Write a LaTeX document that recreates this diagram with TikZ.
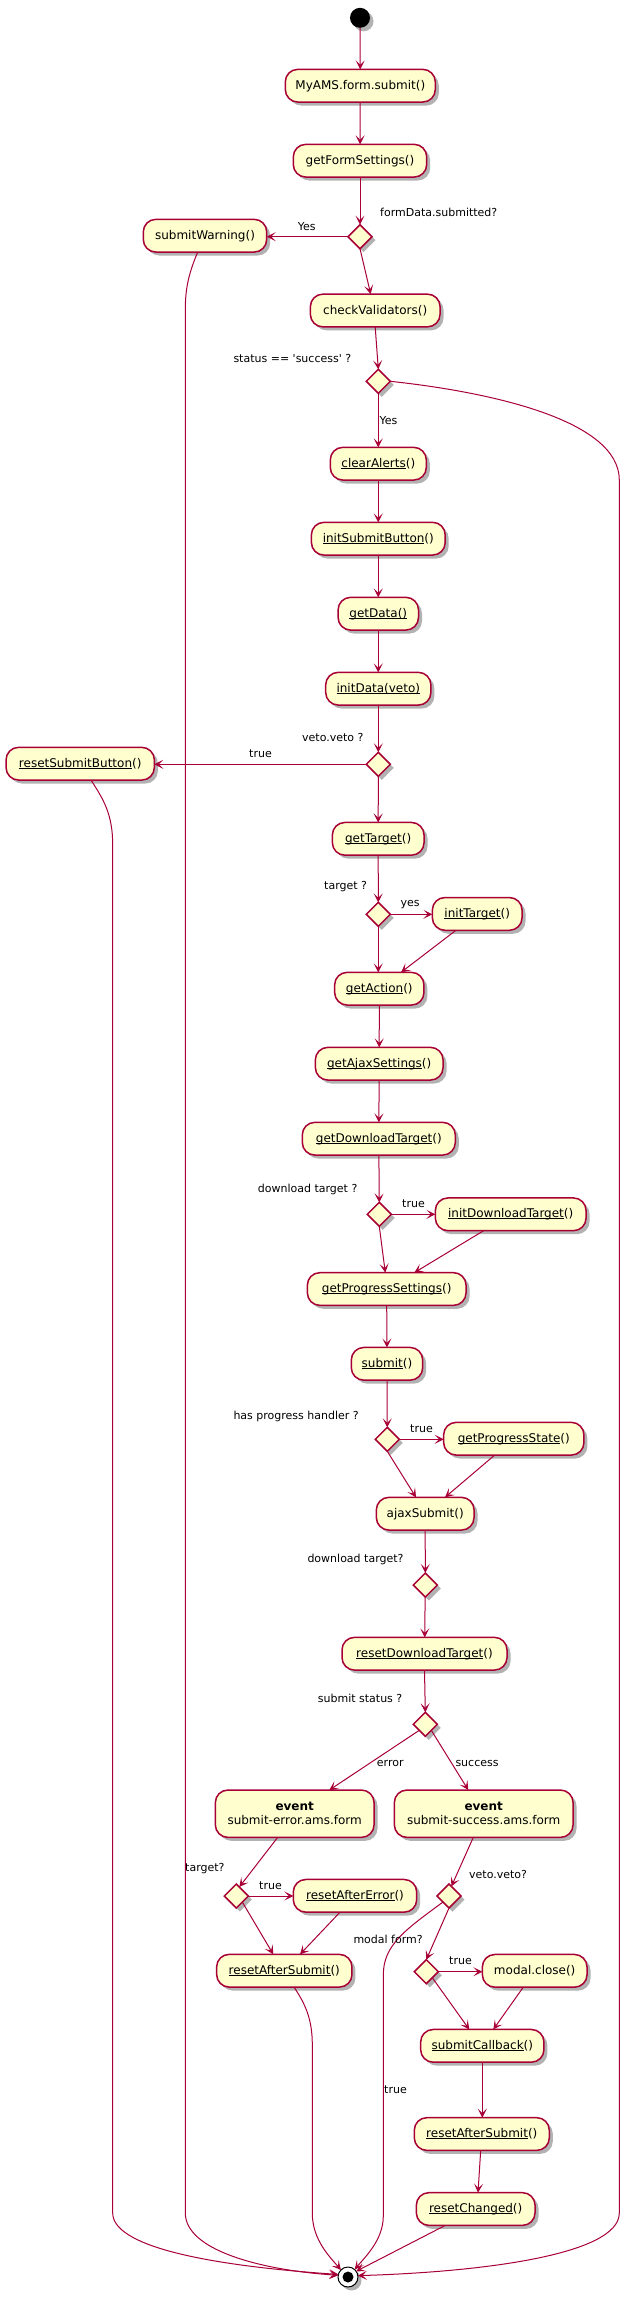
\documentclass[tikz,border=0pt]{standalone}
\usepackage{fontspec}
\setmainfont{DejaVu Sans}
\usetikzlibrary{shapes.geometric,arrows.meta,shadows,calc}
\definecolor{pbord}{HTML}{A80036}
\definecolor{pfill}{HTML}{FEFECE}
\newsavebox\ulbox
\newcommand\myul[1]{\sbox\ulbox{#1}\rlap{\rule[-1.4pt]{\wd\ulbox}{0.7pt}}\usebox\ulbox}
\begin{document}
\begin{tikzpicture}[x=1pt,y=-1pt,
  shd/.style={drop shadow={shadow xshift=3.5pt,shadow yshift=-3.5pt,opacity=0.3,fill=black}},
  act/.style={draw=pbord,fill=pfill,line width=1.5pt,rounded corners=12.5pt,minimum height=32.7pt,inner sep=0pt,outer sep=0pt,font=\fontsize{12}{14}\selectfont,shd},
  dec/.style={diamond,draw=pbord,fill=pfill,line width=1.5pt,minimum width=24pt,minimum height=24pt,inner sep=0pt,outer sep=0pt,shd},
  lbl/.style={anchor=west,inner sep=0pt,font=\fontsize{11}{13}\selectfont},
  arr/.style={draw=pbord,line width=1pt,-{Stealth[length=9pt,width=9pt,inset=4.5pt]}},
]
\fill[white] (0,0) rectangle (630,2297);
\useasboundingbox (0,0) rectangle (630,2297);

% start / end
\node[circle,fill=black,minimum size=20pt,inner sep=0pt,outer sep=0pt,shd] (start) at (360,17.8) {};
\node[circle,draw=black,fill=white,line width=1pt,minimum size=20pt,inner sep=0pt,outer sep=0pt,shd] (end) at (348,2277) {};
\node[circle,fill=black,minimum size=11pt,inner sep=0pt] (endin) at (end) {};

% actions
\node[act,minimum width=150pt] (a1) at (360.3,85.7) {MyAMS.form.submit()};
\node[act,minimum width=133.4pt] (a2) at (360,160.7) {getFormSettings()};
\node[dec] (d1) at (360,236.7) {};
\node[act,minimum width=123.4pt] (sw) at (205,235.7) {submitWarning()};
\node[act,minimum width=129.7pt] (cv) at (375.2,310.5) {checkValidators()};
\node[dec] (d2) at (378.3,381.3) {};
\node[act,minimum width=96pt] (ca) at (378.3,463.7) {\myul{clearAlerts}()};
\node[act,minimum width=133.8pt] (isb) at (378.3,538.7) {\myul{initSubmitButton}()};
\node[act,minimum width=80.4pt] (gd) at (378.3,613.7) {\myul{getData()}};
\node[act,minimum width=105.2pt] (idv) at (378.3,688.7) {\myul{initData(veto)}};
\node[dec] (d3) at (378.3,764.3) {};
\node[act,minimum width=148.3pt] (rsb) at (80.2,763.7) {\myul{resetSubmitButton}()};
\node[act,minimum width=91.7pt] (gt) at (378.2,838.8) {\myul{getTarget}()};
\node[dec] (d4) at (378.3,914.3) {};
\node[act,minimum width=89.7pt] (it) at (477.2,913.9) {\myul{initTarget}()};
\node[act,minimum width=89.3pt] (ga) at (379.3,988.7) {\myul{getAction}()};
\node[act,minimum width=127.7pt] (gas) at (379.2,1063.7) {\myul{getAjaxSettings}()};
\node[act,minimum width=153pt] (gdt) at (378.8,1138.7) {\myul{getDownloadTarget}()};
\node[dec] (d5) at (379.3,1214.3) {};
\node[act,minimum width=150.7pt] (idt) at (510.7,1214.3) {\myul{initDownloadTarget}()};
\node[act,minimum width=158.7pt] (gps) at (386.7,1289) {\myul{getProgressSettings}()};
\node[act,minimum width=71.4pt] (sub) at (387,1363.8) {\myul{submit}()};
\node[dec] (d6) at (387.3,1439.3) {};
\node[act,minimum width=140.3pt] (gpst) at (513.8,1438.7) {\myul{getProgressState}()};
\node[act,minimum width=97.7pt] (as) at (425.2,1513.7) {ajaxSubmit()};
\node[dec] (d7) at (425.3,1585) {};
\node[act,minimum width=165pt] (rdt) at (424.5,1653.7) {\myul{resetDownloadTarget}()};
\node[dec] (d8) at (425.3,1724.3) {};
\node[act,minimum width=158.7pt,minimum height=47.3pt,align=center] (err) at (294.7,1813.7) {\textbf{event}\\submit-error.ams.form};
\node[act,minimum width=178.7pt,minimum height=47.3pt,align=center] (suc) at (483.7,1813.7) {\textbf{event}\\submit-success.ams.form};
\node[dec] (d9) at (236.3,1896) {};
\node[act,minimum width=123.4pt] (rae) at (355,1895.8) {\myul{resetAfterError}()};
\node[act,minimum width=135.3pt] (rasL) at (284.3,1970.7) {\myul{resetAfterSubmit}()};
\node[dec] (d10) at (449,1896) {};
\node[dec] (d11) at (426.3,1971.7) {};
\node[act,minimum width=104.7pt] (mc) at (534.7,1970.8) {modal.close()};
\node[act,minimum width=123.3pt] (scb) at (482.3,2045.8) {\myul{submitCallback}()};
\node[act,minimum width=135pt] (rasR) at (481.8,2134) {\myul{resetAfterSubmit}()};
\node[act,minimum width=118.7pt] (rc) at (475.7,2209) {\myul{resetChanged}()};

% labels
\node[lbl] (l1) at (380,212) {formData.submitted?};
\node[lbl] (l2) at (297.7,226.3) {Yes};
\node[lbl] (l3) at (233.3,358.3) {status == \textquotesingle success\textquotesingle{} ?};
\node[lbl] (l4) at (379.3,420.7) {Yes};
\node[lbl] (l5) at (302,737) {veto.veto ?};
\node[lbl] (l6) at (249,754) {true};
\node[lbl] (l7) at (324,887) {target ?};
\node[lbl] (l8) at (400.3,904.3) {yes};
\node[lbl] (l9) at (257.7,1189) {download target ?};
\node[lbl] (l10) at (402,1204) {true};
\node[lbl] (l11) at (233.3,1416) {has progress handler ?};
\node[lbl] (l12) at (410,1429) {true};
\node[lbl] (l13) at (307.3,1559) {download target?};
\node[lbl] (l14) at (317.7,1698) {submit status ?};
\node[lbl] (l15) at (376.7,1763.3) {error};
\node[lbl] (l16) at (455.3,1763.3) {success};
\node[lbl] (l17) at (185,1869) {target?};
\node[lbl] (l18) at (259,1886) {true};
\node[lbl] (l19) at (469,1874) {veto.veto?};
\node[lbl] (l21) at (449,1961) {true};
\node[lbl] (l22) at (384,2090) {true};

% connectors
\draw[arr] (start) -- (a1);
\draw[arr] (a1) -- (a2);
\draw[arr] (a2) -- (d1);
\draw[arr] (d1.west) -- (d1.west -| sw.east);
\draw[arr] (d1.south) -- ([xshift=-4.5pt]cv.north);
\draw[arr] (cv.south) -- (d2.north);
\draw[arr] (d2.south) -- (ca.north);
\draw[arr] (ca) -- (isb);
\draw[arr] (isb) -- (gd);
\draw[arr] (gd) -- (idv);
\draw[arr] (idv) -- (d3);
\draw[arr] (d3.west) -- (d3.west -| rsb.east);
\draw[arr] (d3) -- (gt);
\draw[arr] (gt) -- (d4);
\draw[arr] (d4.east) -- (d4.east -| it.west);
\draw[arr] (d4.south) -- (d4.south |- ga.north);
\draw[arr] ([xshift=-21.2pt]it.south) -- ([xshift=21.7pt]ga.north);
\draw[arr] (ga) -- (gas);
\draw[arr] (gas) -- (gdt);
\draw[arr] (gdt) -- (d5);
\draw[arr] (d5.east) -- (d5.east -| idt.west);
\draw[arr] (d5.south) -- ([xshift=-1.4pt]gps.north);
\draw[arr] ([xshift=-27pt]idt.south) -- ([xshift=27.6pt]gps.north);
\draw[arr] (gps.south) -- (sub.north);
\draw[arr] (sub) -- (d6);
\draw[arr] (d6.east) -- (d6.east -| gpst.west);
\draw[arr] (d6.south) -- ([xshift=-9.2pt]as.north);
\draw[arr] ([xshift=-19.1pt]gpst.south) -- ([xshift=19.8pt]as.north);
\draw[arr] (as.south) -- (d7.north);
\draw[arr] (d7) -- (rdt);
\draw[arr] (rdt.south) -- (d8.north);
\draw[arr] (d8.south west) -- ([xshift=34.6pt]err.north);
\draw[arr] (d8.south east) -- ([xshift=-15.4pt]suc.north);
\draw[arr] ([xshift=-17pt]err.south) -- ($(d9.north)!0.5!(d9.north east)$);
\draw[arr] (d9.east) -- (d9.east -| rae.west);
\draw[arr] (d9.south east) -- ([xshift=-11pt]rasL.north);
\draw[arr] ([xshift=-15pt]rae.south) -- ([xshift=15.7pt]rasL.north);
\draw[arr] ([xshift=-10.4pt]suc.south) -- ($(d10.north)!0.4!(d10.north east)$);
\draw[arr] (d10.south) -- (d11.north);
\draw[arr] (d11.east) -- (d11.east -| mc.west);
\draw[arr] (d11.south east) -- ([xshift=-13pt]scb.north);
\draw[arr] ([xshift=-11.4pt]mc.south) -- ([xshift=11pt]scb.north);
\draw[arr] (scb.south) -- (scb.south |- rasR.north);
\draw[arr] ([xshift=-1.1pt]rasR.south) -- ([xshift=2.3pt]rc.north);
\draw[arr] ([xshift=-30.4pt]rc.south) -- (end.35);

% long curved connectors
\draw[arr] ([xshift=-7.3pt]sw.south) .. controls (188,275) and (185.3,290) .. (185.3,310)
  -- (185.3,2213) .. controls (185.3,2250) and (260,2270) .. (end.170);
\draw[arr] ([xshift=10.8pt]rsb.south) .. controls (104,800) and (112.7,815) .. (112.7,845)
  -- (112.7,2213) .. controls (112.7,2245) and (200,2265) .. (end.165);
\draw[arr] (d2.east) .. controls (490,392) and (619.3,420) .. (619.3,480)
  -- (619.3,2213) .. controls (619.3,2255) and (480,2272) .. (end.8);
\draw[arr] ([xshift=9.7pt]rasL.south) .. controls (306,2005) and (312.3,2020) .. (312.3,2045)
  -- (312.3,2213) .. controls (312.3,2240) and (330,2257) .. (end.135);
\draw[arr] (d10.south west) .. controls (405,1930) and (383.3,1945) .. (383.3,1975)
  -- (383.3,2216) .. controls (383.3,2240) and (365,2257) .. (end.48);
\node[lbl] (l20) at (353.3,1939) {modal form?};
\end{tikzpicture}
\end{document}
